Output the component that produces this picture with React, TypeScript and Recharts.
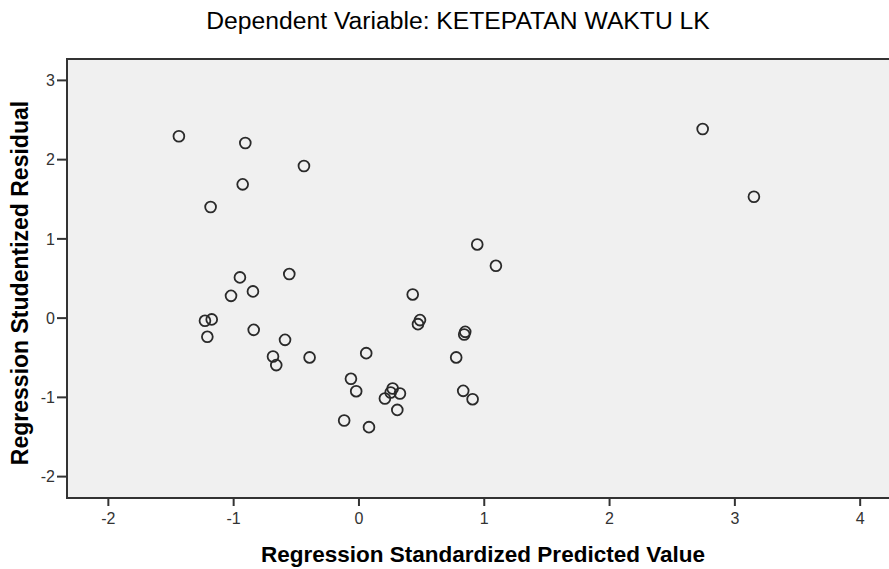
import { ReferenceArea, Scatter, ScatterChart, XAxis, YAxis } from "recharts";

// predicted (standardized) vs studentized residual
const predicted = [
	-1.437, -0.907, -0.439, -0.928, -1.184, 2.743, 3.152, 0.944, 1.093, -0.95,
	-0.556, -0.846, -1.021, 0.429, -1.229, -1.175, -1.21, -0.84, -0.59, -0.686,
	-0.66, -0.394, 0.058, -0.064, -0.022, 0.269, 0.253, 0.327, 0.207, 0.306,
	-0.118, 0.08, 0.776, 0.832, 0.907, 0.487, 0.471, 0.848, 0.84,
];
const residual = [
	2.295, 2.21, 1.919, 1.688, 1.402, 2.386, 1.532, 0.93, 0.66, 0.514, 0.556,
	0.337, 0.281, 0.299, -0.034, -0.016, -0.236, -0.148, -0.274, -0.484, -0.593,
	-0.496, -0.442, -0.766, -0.922, -0.888, -0.938, -0.951, -1.014, -1.158,
	-1.292, -1.376, -0.496, -0.918, -1.023, -0.025, -0.076, -0.173, -0.206,
];

const xTicks = [-2, -1, 0, 1, 2, 3, 4];
const yTicks = [-2, -1, 0, 1, 2, 3];

const X_MIN = -2.33;
const X_MAX = 4.254;
const Y_MIN = -2.27;
const Y_MAX = 3.27;

const data = predicted.map((x, i) => ({ x, y: residual[i] }));

const FONT = "'Liberation Sans', Arial, sans-serif";
const INK = "#333";

const Ring = (props: any) => (
	<circle
		cx={props.cx}
		cy={props.cy}
		r={5.4}
		fill="none"
		stroke="#2a2a2a"
		strokeWidth={1.8}
	/>
);

export default function App() {
	return (
		<div
			style={{
				position: "absolute",
				left: 0,
				top: 0,
				width: 889,
				height: 569,
				overflow: "hidden",
				background: "#fff",
				fontFamily: FONT,
			}}
		>
			<div
				style={{
					position: "absolute",
					left: 458,
					top: 9,
					transform: "translateX(-50%)",
					fontSize: 24.7,
					lineHeight: 1,
					whiteSpace: "nowrap",
					color: "#000",
				}}
			>
				Dependent Variable: KETEPATAN WAKTU LK
			</div>
			<ScatterChart
				width={892}
				height={569}
				margin={{ top: 59, right: 0, bottom: 0, left: 0 }}
			>
				<ReferenceArea
					x1={X_MIN}
					x2={X_MAX}
					y1={Y_MIN}
					y2={Y_MAX}
					fill="#f0f0f0"
					fillOpacity={1}
					stroke={INK}
					strokeWidth={2}
				/>
				<XAxis
					type="number"
					dataKey="x"
					domain={[X_MIN, X_MAX]}
					ticks={xTicks}
					allowDataOverflow
					height={71}
					tickSize={8}
					tickMargin={7}
					axisLine={{ stroke: INK, strokeWidth: 2 }}
					tickLine={{ stroke: INK, strokeWidth: 2 }}
					tick={{ fill: INK, fontSize: 16, fontFamily: FONT }}
				/>
				<YAxis
					type="number"
					dataKey="y"
					domain={[Y_MIN, Y_MAX]}
					ticks={yTicks}
					allowDataOverflow
					width={67}
					tickSize={10}
					tickMargin={2}
					axisLine={{ stroke: INK, strokeWidth: 2 }}
					tickLine={{ stroke: INK, strokeWidth: 2 }}
					tick={{ fill: INK, fontSize: 16, fontFamily: FONT }}
				/>
				<Scatter data={data} shape={Ring} isAnimationActive={false} />
			</ScatterChart>
			<div
				style={{
					position: "absolute",
					left: 483,
					top: 544,
					transform: "translateX(-50%)",
					fontSize: 22.5,
					fontWeight: "bold",
					lineHeight: 1,
					whiteSpace: "nowrap",
					color: "#000",
				}}
			>
				Regression Standardized Predicted Value
			</div>
			<div
				style={{
					position: "absolute",
					left: 20,
					top: 282.5,
					transform: "translate(-50%, -50%) rotate(-90deg)",
					fontSize: 23,
					fontWeight: "bold",
					lineHeight: 1,
					whiteSpace: "nowrap",
					color: "#000",
				}}
			>
				Regression Studentized Residual
			</div>
		</div>
	);
}
